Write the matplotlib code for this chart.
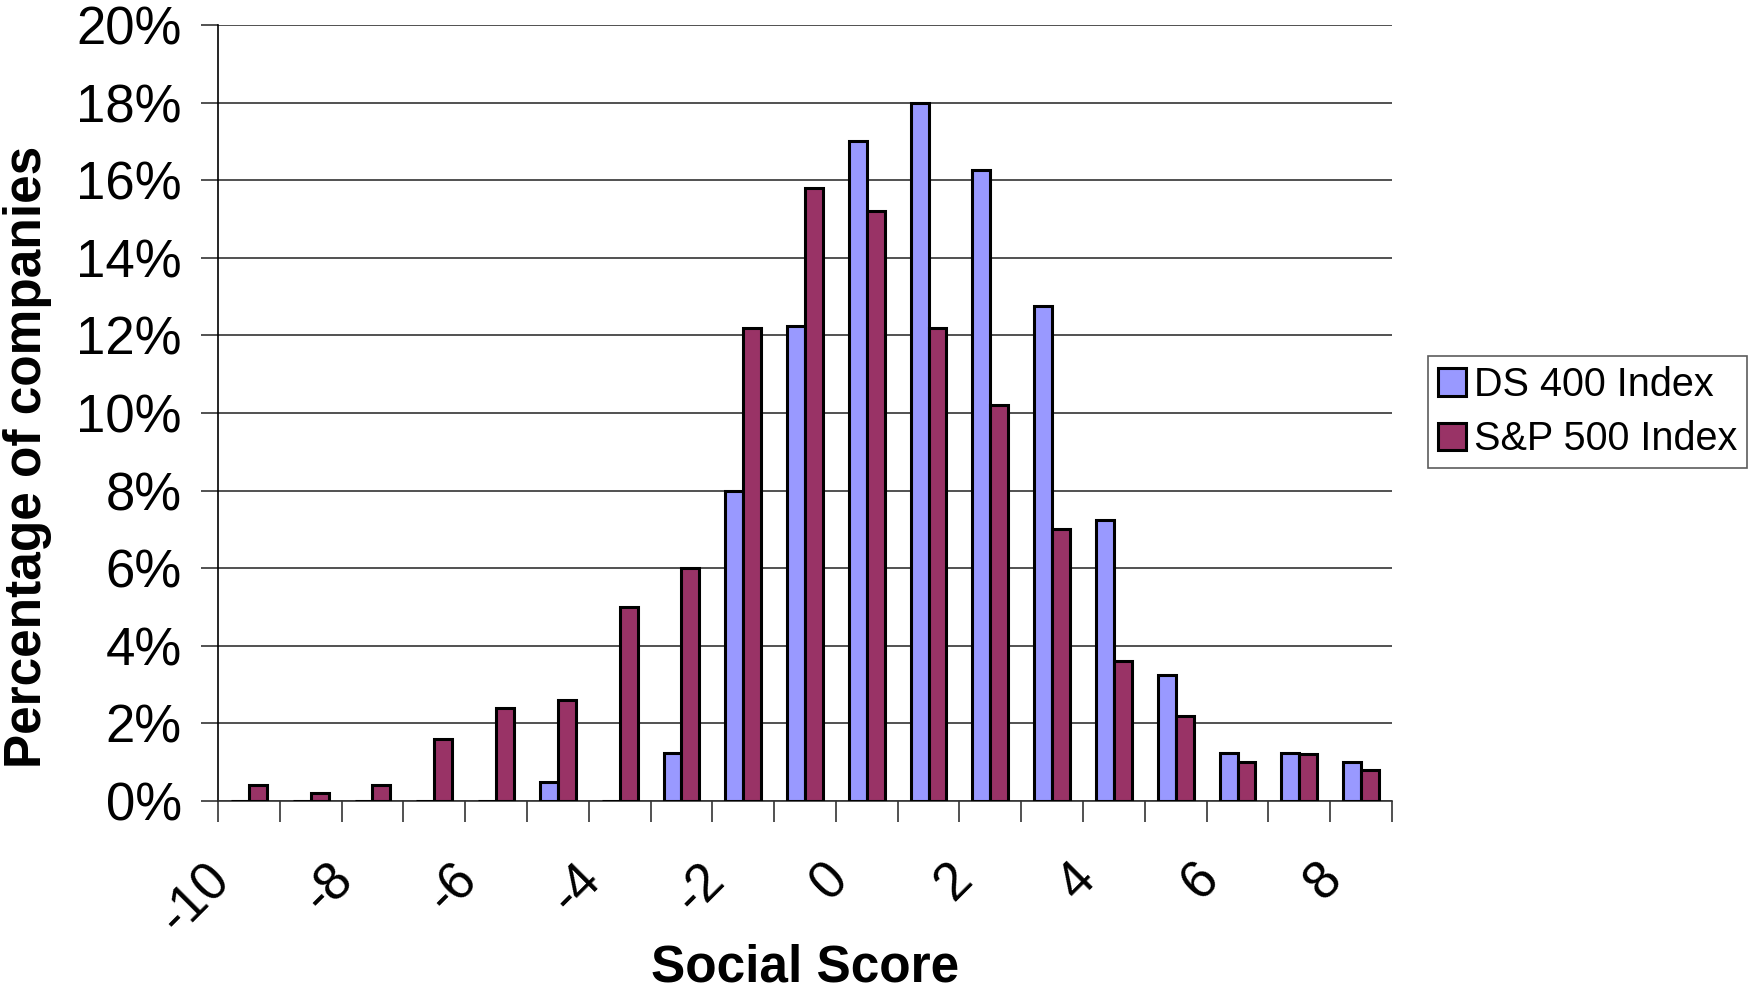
import matplotlib.pyplot as plt
import matplotlib.transforms as mtransforms
import numpy as np

plt.rcParams['font.family'] = ['Liberation Sans', 'DejaVu Sans']

# Social score categories and share of companies (%)
scores = list(range(-10, 9))
ds400 = [0, 0, 0, 0, 0, 0.5, 0, 1.25, 8.0, 12.25, 17.0, 18.0, 16.25, 12.75, 7.25, 3.25, 1.25, 1.25, 1.0]
sp500 = [0.4, 0.2, 0.4, 1.6, 2.4, 2.6, 5.0, 6.0, 12.2, 15.8, 15.2, 12.2, 10.2, 7.0, 3.6, 2.2, 1.0, 1.2, 0.8]
tick_labels = [str(s) if s % 2 == 0 else '' for s in scores]

fig = plt.figure(figsize=(17.48, 9.9), dpi=100)
ax = fig.add_axes([218/1748, 1 - 801/990, (1392-218)/1748, (801-25)/990])

x = np.arange(len(scores))
w = 0.29
ax.bar(x - w/2, ds400, w, color='#9999FF', edgecolor='black', linewidth=2.2,
       label='DS 400 Index', zorder=3)
ax.bar(x + w/2, sp500, w, color='#993366', edgecolor='black', linewidth=2.2,
       label='S&P 500 Index', zorder=3)

ax.set_xlim(-0.5, len(scores) - 0.5)
ax.set_ylim(0, 20)
ax.set_yticks(range(0, 21, 2))
ax.set_yticklabels([f'{v}%' for v in range(0, 21, 2)], fontsize=38)
ax.yaxis.grid(True, color='#333333', linewidth=1.2, zorder=0)

# category boundaries carry the tick marks, labels sit under every other group
ax.set_xticks(np.arange(-0.5, len(scores) + 0.5, 1.0))
ax.set_xticklabels([])
ax.set_xticks(x, minor=True)
ax.set_xticklabels(tick_labels, minor=True, fontsize=38, rotation=45,
                   ha='right', va='top')
ax.tick_params(axis='x', which='minor', length=0, pad=38)
ax.tick_params(axis='x', which='major', length=15, width=1.2, color='#333333')
ax.tick_params(axis='y', length=12, width=1.2, color='#333333', pad=14)
offset = mtransforms.ScaledTranslation(-0.09, 0, fig.dpi_scale_trans)
for lab in ax.get_xticklabels(minor=True):
    lab.set_transform(lab.get_transform() + offset)

for side in ['top', 'right']:
    ax.spines[side].set_visible(False)
ax.spines['left'].set_linewidth(1.2)
ax.spines['bottom'].set_linewidth(1.2)
ax.spines['bottom'].set_color('#333333')

fig.text(805/1748, 1 - 968/990, 'Social Score', ha='center', va='center',
         fontsize=37, fontweight='bold')
fig.text(28/1748, 1 - 457/990, 'Percentage of companies', ha='center',
         va='center', rotation=90, fontsize=37, fontweight='bold')

leg = fig.legend(loc='center left', bbox_to_anchor=(1428/1748, 1 - 412/990),
                 fontsize=28.5, frameon=True, fancybox=False, edgecolor='#333333',
                 handlelength=0.7, handleheight=0.7, handletextpad=0.2,
                 borderpad=0.25, labelspacing=0.42, borderaxespad=0)
leg.get_frame().set_linewidth(1.2)

plt.savefig('out.png', dpi=100)
